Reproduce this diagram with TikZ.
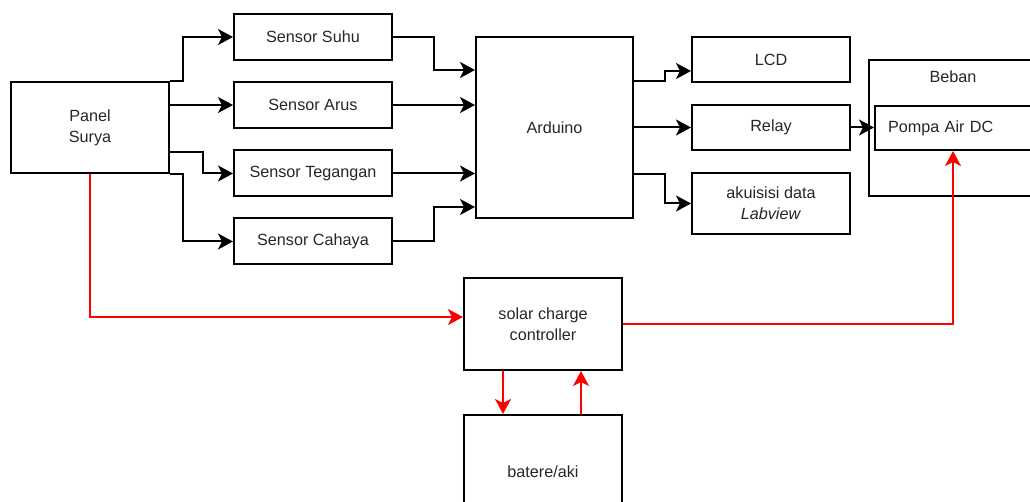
\documentclass[tikz,border=0pt]{standalone}
\usepackage{fontspec}
\setmainfont{Liberation Sans}
\usetikzlibrary{arrows.meta}

\begin{document}
\begin{tikzpicture}[
    x=1pt, y=-1pt,           % satuan piksel, y ke bawah
    >={Stealth[length=15pt, width=16pt, inset=4pt]},
    font=\fontsize{16.2}{21}\selectfont,
    box/.style={draw, line width=2pt, inner sep=0pt, text=black!85, align=center},
    wire/.style={->, line width=2pt},
    redwire/.style={->, line width=2pt, red}
]
    \useasboundingbox (0,0) rectangle (1030,502);

    % --- 1. Node kiri (Panel + Sensor) ---
    \node[box, minimum width=158pt, minimum height=91pt] (panel) at (90,127.5) {Panel\\Surya};
    \node[box, minimum width=158pt, minimum height=46pt] (suhu) at (313,37) {Sensor Suhu};
    \node[box, minimum width=158pt, minimum height=46pt] (arus) at (313,105) {Sensor Arus};
    \node[box, minimum width=158pt, minimum height=46pt] (teg) at (313,173.5) {Sensor Tegangan};
    \node[box, minimum width=158pt, minimum height=46pt] (cahaya) at (313,241.5) {Sensor Cahaya};

    % --- 2. Node tengah dan kanan ---
    \node[box, minimum width=157pt, minimum height=181pt] (ard) at (554.5,127.5) {Arduino};
    \node[box, minimum width=158pt, minimum height=45pt] (lcd) at (771,59.5) {LCD};
    \node[box, minimum width=158pt, minimum height=45pt] (relay) at (771,127.5) {Relay};
    \node[box, minimum width=158pt, minimum height=61pt] (akuisisi) at (771,203.5) {akuisisi data\\\textit{Labview}};

    % Beban (kotak luar) dengan Pompa di dalamnya
    \node[box, minimum width=168pt, minimum height=136pt] (beban) at (953,128) {};
    \node[text=black!85] (bebanlbl) at (953,77) {Beban};
    \node[box, minimum width=156pt, minimum height=44pt, text width=130pt, align=left] (pompa) at (953,128) {Pompa Air DC};

    % --- 3. Node bawah ---
    \node[box, minimum width=158pt, minimum height=92pt] (scc) at (543,324) {solar charge\\controller};
    \node[box, minimum width=158pt, minimum height=114pt] (bat) at (543,472) {batere/aki};

    % --- 4. Panah hitam ---
    \draw[wire] (panel.north east) -- ++(13,0) |- (suhu.west);
    \draw[wire] (panel.east |- arus.west) -- (arus.west);
    \draw[wire] ([yshift=22pt]panel.south east) -- ++(33,0) |- (teg.west);
    \draw[wire] (panel.south east) -- ++(13,0) |- (cahaya.west);

    \draw[wire] (suhu.east) -- ++(41,0) |- ([yshift=-34pt]ard.north west);
    \draw[wire] (arus.east) -- (arus.east -| ard.west);
    \draw[wire] (teg.east) -- (teg.east -| ard.west);
    \draw[wire] (cahaya.east) -- ++(41,0) |- ([yshift=12pt]ard.south west);

    \draw[wire] ([yshift=-45pt]ard.north east) -- ++(31,0) |- ([yshift=-11.5pt]lcd.west);
    \draw[wire] (ard.east) -- (relay.west);
    \draw[wire] ([yshift=45pt]ard.south east) -- ++(31,0) |- (akuisisi.west);
    \draw[wire] (relay.east) -- (relay.east -| pompa.west);

    % --- 5. Panah merah (daya) ---
    \draw[redwire] (panel.south) |- ([yshift=7pt]scc.west);
    \draw[redwire] (scc.east) -| (pompa.south);
    \draw[redwire] ([xshift=-40pt]scc.south) -- ([xshift=-40pt]scc.south |- bat.north);
    \draw[redwire] ([xshift=38pt]bat.north) -- ([xshift=38pt]bat.north |- scc.south);

\end{tikzpicture}
\end{document}
